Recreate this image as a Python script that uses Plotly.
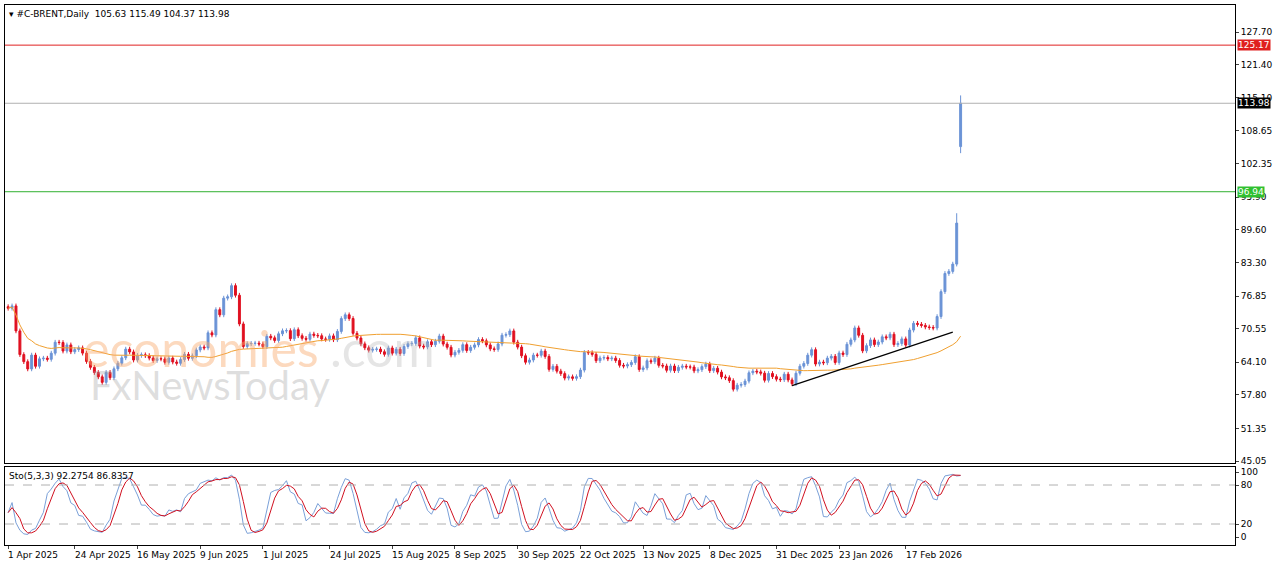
import pandas as pd
import numpy as np
import plotly.graph_objects as go

closes_apr = [74.5,74.95,70.14,65.58,64.21,62.82,65.48,63.33,64.76,64.88,64.67,65.85,67.96,67.9,66.26,67.44,66.12,66.55,66.87,65.86,64.25,63.12]
closes_may = [62.13,61.29,60.23,62.15,61.12,62.84,63.91,64.96,66.63,66.09,64.53,65.41,65.54,65.38,64.91,64.44,64.78,64.74,64.09,64.90,64.15,63.90]
closes_jun = [64.63,65.63,64.86,65.34,66.47,67.04,66.87,69.77,69.36,74.23,73.23,76.45,76.70,78.85,77.01,71.48,67.14,67.68,67.73,67.77,67.61]
closes_jul = [67.11,69.11,68.80,68.30,69.58,70.15,70.19,68.64,70.36,69.21,68.71,68.52,69.52,69.28,69.21,68.59,68.51,69.18,68.44,70.04,72.51,73.24,72.53]
closes_aug = [69.67,68.76,67.64,66.89,66.43,66.59,66.63,66.12,65.63,66.84,65.85,66.60,65.79,67.14,67.67,67.73,68.80,67.22,67.05,68.05,67.48]
closes_sep = [68.15,69.14,67.60,66.99,65.50,66.02,66.39,67.49,66.37,66.99,67.44,68.47,68.22,67.44,66.68,66.57,67.63,69.31,69.42,70.13,67.97,67.02]
closes_oct = [65.35,64.11,64.53,65.47,65.45,66.25,65.22,62.73,63.32,62.39,61.91,61.06,61.29,61.01,61.32,62.59,65.99,65.94,65.62,64.40,64.92,65.00,64.77]
closes_nov = [64.89,64.44,63.52,63.38,63.63,64.06,65.16,62.71,63.01,64.39,64.20,64.89,63.51,63.38,62.56,63.37,62.48,63.13,63.34,63.20]
closes_dec = [63.17,62.45,62.67,63.26,63.75,62.49,62.94,62.21,61.28,61.12,60.56,58.92,59.68,59.82,60.47,62.07,62.38,62.24,62.0,60.64,61.94,61.33,60.85]
closes_jan = [60.75,61.8,60.7,59.96,61.99,63.34,63.87,65.47,66.52,63.76,64.13,64.0,64.9,65.24,64.06,65.88,65.59,67.57,68.4,70.71,69.3]
closes_feb = [66.3,67.3,68.4,67.5,68.0,69.0,68.8,69.5,67.5,67.7,68.6,67.4,70.3,71.6,71.4,71.2,70.9,70.8,70.7,72.9]
closes_mar = [77.7,81.2,81.6,83.0,90.9,113.98]

closes = (closes_apr+closes_may+closes_jun+closes_jul+closes_aug+closes_sep+
          closes_oct+closes_nov+closes_dec+closes_jan+closes_feb+closes_mar)
dates = [d for d in pd.bdate_range("2025-04-01", "2026-03-09") if d != pd.Timestamp("2026-01-01")]
n = len(closes)
dates = dates[:n]

last_ohlc = [105.63, 115.49, 104.37, 113.98]
sto_header = ["92.2754", "86.8357"]
mar6_high = 92.8
wick = 0.45

opens = [closes[0]+0.3] + closes[:-1]
opens[-1] = last_ohlc[0]
highs = [max(o, c)+wick for o, c in zip(opens, closes)]
lows = [min(o, c)-wick for o, c in zip(opens, closes)]
highs[-1] = last_ohlc[1]; lows[-1] = last_ohlc[2]
highs[-2] = mar6_high

s = pd.Series(closes)
ma = s.rolling(50, min_periods=1).mean()
hh = pd.Series(highs).rolling(5, min_periods=1).max()
ll = pd.Series(lows).rolling(5, min_periods=1).min()
k = 100*(s-ll).rolling(3, min_periods=1).sum()/(hh-ll).rolling(3, min_periods=1).sum()
d = k.rolling(3, min_periods=1).mean()

level_red = 125.17
level_green = 96.94
trend_dates = ["2026-01-07", "2026-03-05"]
trend_prices = [59.6, 69.9]
tick_prices = [127.70,121.40,115.10,108.65,102.35,95.90,89.60,83.30,76.85,70.55,64.10,57.80,51.35,45.05]
date_labels = ["2025-04-01","2025-04-24","2025-05-16","2025-06-09","2025-07-01","2025-07-24","2025-08-15",
               "2025-09-08","2025-09-30","2025-10-22","2025-11-13","2025-12-08","2025-12-31","2026-01-23","2026-02-17"]

idx = list(range(n))
pos = {dd.strftime("%Y-%m-%d"): i for i, dd in enumerate(dates)}

fig = go.Figure()
fig.add_trace(go.Candlestick(x=idx, open=opens, high=highs, low=lows, close=closes,
    increasing=dict(line=dict(color="#6b93d6", width=1), fillcolor="#6b93d6"),
    decreasing=dict(line=dict(color="#e01020", width=1), fillcolor="#e01020"),
    whiskerwidth=0, xaxis="x", yaxis="y", showlegend=False))
fig.add_trace(go.Scatter(x=idx, y=ma, mode="lines", line=dict(color="#f0a030", width=1), xaxis="x", yaxis="y", showlegend=False))
fig.add_trace(go.Scatter(x=[pos[t] for t in trend_dates], y=trend_prices, mode="lines", line=dict(color="black", width=1.2), xaxis="x", yaxis="y", showlegend=False))
fig.add_trace(go.Scatter(x=idx, y=k, mode="lines", line=dict(color="#7aa0d8", width=1), xaxis="x2", yaxis="y2", showlegend=False))
fig.add_trace(go.Scatter(x=idx, y=d, mode="lines", line=dict(color="#d01020", width=1), xaxis="x2", yaxis="y2", showlegend=False))

xr = [-0.8, 313]
top_dom = [(545-463)/540, 1]
bot_dom = [0, 78/540]
fig.update_layout(
    width=1280, height=567, margin=dict(l=5, r=45, t=5, b=22),
    paper_bgcolor="white", plot_bgcolor="white",
    font=dict(family="DejaVu Sans", size=9, color="black"),
    xaxis=dict(domain=[0, 1], range=xr, showticklabels=False, showgrid=False, zeroline=False,
               rangeslider=dict(visible=False), showline=True, mirror=True, linecolor="black", anchor="y"),
    yaxis=dict(domain=top_dom, range=[44.7, 132.9], side="right", tickvals=tick_prices,
               ticktext=[f"{v:.2f}" for v in tick_prices], showgrid=False, zeroline=False,
               showline=True, mirror=True, linecolor="black", ticks="outside", ticklen=3, anchor="x"),
    xaxis2=dict(domain=[0, 1], range=xr, showticklabels=False, showgrid=False, zeroline=False,
                showline=True, mirror=True, linecolor="black", anchor="y2",
                tickvals=[pos[t] for t in date_labels], ticks="outside", ticklen=3),
    yaxis2=dict(domain=bot_dom, range=[-12.3, 107.7], side="right", tickvals=[0, 20, 80, 100],
                showgrid=False, zeroline=False, showline=True, mirror=True, linecolor="black",
                ticks="outside", ticklen=3, anchor="x2"),
)
for lv in [20, 80]:
    fig.add_shape(type="line", xref="x2 domain", yref="y2", x0=0, x1=1, y0=lv, y1=lv,
                  line=dict(color="#b0b0b0", width=1, dash="dash"))
fig.add_shape(type="line", xref="x domain", yref="y", x0=0, x1=1, y0=level_red, y1=level_red, line=dict(color="#e02020", width=1))
fig.add_shape(type="line", xref="x domain", yref="y", x0=0, x1=1, y0=level_green, y1=level_green, line=dict(color="#30b030", width=1))
fig.add_shape(type="line", xref="x domain", yref="y", x0=0, x1=1, y0=closes[-1], y1=closes[-1], line=dict(color="#b0b0b0", width=1))

for val, bg in [(level_red, "#e02020"), (level_green, "#30c030"), (closes[-1], "black")]:
    fig.add_annotation(xref="paper", yref="y", x=1.0, y=val, xanchor="left", text=f"{val:.2f}",
                       showarrow=False, bgcolor=bg, font=dict(color="white", size=9), borderpad=0, xshift=2)

for t in date_labels:
    dt = pd.Timestamp(t)
    fig.add_annotation(xref="x2", yref="paper", x=pos[t], y=0, yanchor="top", xanchor="left",
                       text=f"{dt.day} {dt.strftime('%b %Y')}", showarrow=False, yshift=-3, xshift=-2)

fig.add_annotation(xref="paper", yref="paper", x=0.002, y=1, xanchor="left", yanchor="top",
                   text=f"▾ #C-BRENT,Daily  {last_ohlc[0]:.2f} {last_ohlc[1]:.2f} {last_ohlc[2]:.2f} {last_ohlc[3]:.2f}",
                   showarrow=False, yshift=-2)
fig.add_annotation(xref="paper", yref="paper", x=0.002, y=bot_dom[1], xanchor="left", yanchor="top",
                   text=f"Sto(5,3,3) {sto_header[0]} {sto_header[1]}", showarrow=False, yshift=-2)

fig.add_annotation(xref="x", yref="y", x=11, y=66.8, xanchor="left", text="economies", showarrow=False, xshift=30,
                   font=dict(family="Lato", size=50, color="rgba(248,170,110,0.45)"))
fig.add_annotation(xref="x", yref="y", x=79, y=66.8, xanchor="left", text=".com", showarrow=False, xshift=10,
                   font=dict(family="Lato", size=50, color="rgba(180,180,180,0.35)"))
fig.add_annotation(xref="x", yref="y", x=21, y=59.8, xanchor="left", text="FxNewsToday", showarrow=False, xshift=-2,
                   font=dict(family="Lato", size=40, color="rgba(160,160,160,0.35)"))

fig.write_html("out.html", config={"displayModeBar": False},
               post_script="document.body.style.margin='0';document.body.style.overflow='hidden';")
